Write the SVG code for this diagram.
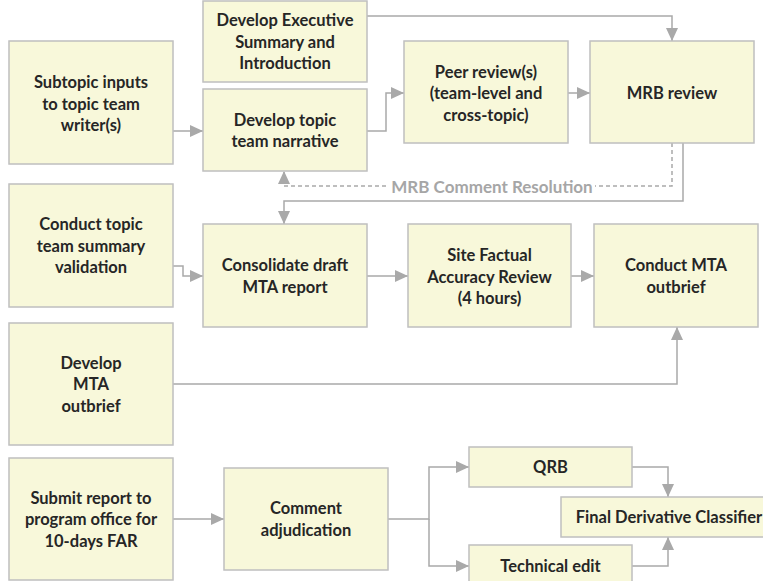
<svg xmlns="http://www.w3.org/2000/svg" width="763" height="581" viewBox="0 0 763 581">
<style>
.box{fill:#F8F8DA;stroke:#BFBFBF;stroke-width:1.5}
.t{font-family:Lato,"Liberation Sans",sans-serif;font-weight:bold;font-size:16.5px;fill:#262626;text-anchor:middle;dominant-baseline:central}
.c{fill:none;stroke:#A9A9A9;stroke-width:1.5}
.d{stroke-dasharray:4 3}
.lbl{font-family:Lato,"Liberation Sans",sans-serif;font-weight:bold;font-size:17px;fill:#A6A6A6;text-anchor:middle;dominant-baseline:central}
</style>
<defs>
<marker id="arr" markerWidth="13" markerHeight="12" refX="13" refY="6" orient="auto" markerUnits="userSpaceOnUse">
<path d="M0,0 L13,6 L0,12 z" fill="#A9A9A9"/>
</marker>
</defs>
<rect width="763" height="581" fill="#FFFFFF"/>
<g id="connectors">
<path class="c" d="M173,131 H203" marker-end="url(#arr)"/>
<path class="c" d="M367,16 H672 V41" marker-end="url(#arr)"/>
<path class="c" d="M367,131 H386 V93 H404" marker-end="url(#arr)"/>
<path class="c" d="M568,93 H590" marker-end="url(#arr)"/>
<path class="c d" d="M672,143 V186 H284 V171" marker-end="url(#arr)"/>
<rect x="389" y="176" width="206" height="20" fill="#FFFFFF"/>
<text class="lbl" x="492" y="186">MRB Comment Resolution</text>
<path class="c" d="M683,143 V201 H284 V224" marker-end="url(#arr)"/>
<path class="c" d="M173,266 H183 V276 H203" marker-end="url(#arr)"/>
<path class="c" d="M367,276 H408" marker-end="url(#arr)"/>
<path class="c" d="M571,276 H594" marker-end="url(#arr)"/>
<path class="c" d="M173,384 H677 V327" marker-end="url(#arr)"/>
<path class="c" d="M173,519 H224" marker-end="url(#arr)"/>
<path class="c" d="M388,519 H429 V467 H469" marker-end="url(#arr)"/>
<path class="c" d="M429,519 V566 H469" marker-end="url(#arr)"/>
<path class="c" d="M632,467 H668 V497" marker-end="url(#arr)"/>
<path class="c" d="M632,566 H668 V537" marker-end="url(#arr)"/>
</g>
<g id="subtopic">
<rect class="box" x="9" y="41" width="164" height="123"/>
<text class="t" x="91" y="82">Subtopic inputs</text>
<text class="t" x="91" y="103.5">to topic team</text>
<text class="t" x="91" y="125">writer(s)</text>
</g>
<g id="exec">
<rect class="box" x="203" y="1" width="164" height="81"/>
<text class="t" x="285" y="20">Develop Executive</text>
<text class="t" x="285" y="41.5">Summary and</text>
<text class="t" x="285" y="63">Introduction</text>
</g>
<g id="narrative">
<rect class="box" x="203" y="89" width="164" height="82"/>
<text class="t" x="285" y="119.5">Develop topic</text>
<text class="t" x="285" y="141">team narrative</text>
</g>
<g id="peer">
<rect class="box" x="404" y="41" width="164" height="102"/>
<text class="t" x="486" y="71.5">Peer review(s)</text>
<text class="t" x="486" y="93">(team-level and</text>
<text class="t" x="486" y="114.5">cross-topic)</text>
</g>
<g id="mrb">
<rect class="box" x="590" y="41" width="164" height="102"/>
<text class="t" x="672" y="93">MRB review</text>
</g>
<g id="validation">
<rect class="box" x="9" y="184" width="164" height="123"/>
<text class="t" x="91" y="224">Conduct topic</text>
<text class="t" x="91" y="245.5">team summary</text>
<text class="t" x="91" y="267">validation</text>
</g>
<g id="consolidate">
<rect class="box" x="203" y="224" width="164" height="103"/>
<text class="t" x="285" y="265">Consolidate draft</text>
<text class="t" x="285" y="286.5">MTA report</text>
</g>
<g id="site">
<rect class="box" x="408" y="224" width="163" height="103"/>
<text class="t" x="489.5" y="255">Site Factual</text>
<text class="t" x="489.5" y="276.5">Accuracy Review</text>
<text class="t" x="489.5" y="298">(4 hours)</text>
</g>
<g id="outbrief">
<rect class="box" x="594" y="224" width="164" height="103"/>
<text class="t" x="676" y="265">Conduct MTA</text>
<text class="t" x="676" y="286.5">outbrief</text>
</g>
<g id="devoutbrief">
<rect class="box" x="9" y="323" width="164" height="122"/>
<text class="t" x="91" y="362.5">Develop</text>
<text class="t" x="91" y="384">MTA</text>
<text class="t" x="91" y="405.5">outbrief</text>
</g>
<g id="submit">
<rect class="box" x="9" y="458" width="164" height="122"/>
<text class="t" x="91" y="497.5">Submit report to</text>
<text class="t" x="91" y="519">program office for</text>
<text class="t" x="91" y="540.5">10-days FAR</text>
</g>
<g id="comment">
<rect class="box" x="224" y="468" width="164" height="102"/>
<text class="t" x="306" y="508">Comment</text>
<text class="t" x="306" y="529.5">adjudication</text>
</g>
<g id="qrb">
<rect class="box" x="469" y="447" width="163" height="40"/>
<text class="t" x="550.5" y="467">QRB</text>
</g>
<g id="final">
<rect class="box" x="561" y="497" width="216" height="40"/>
<text class="t" x="669" y="517">Final Derivative Classifier</text>
</g>
<g id="techedit">
<rect class="box" x="469" y="545" width="163" height="42"/>
<text class="t" x="550.5" y="566">Technical edit</text>
</g>
</svg>
